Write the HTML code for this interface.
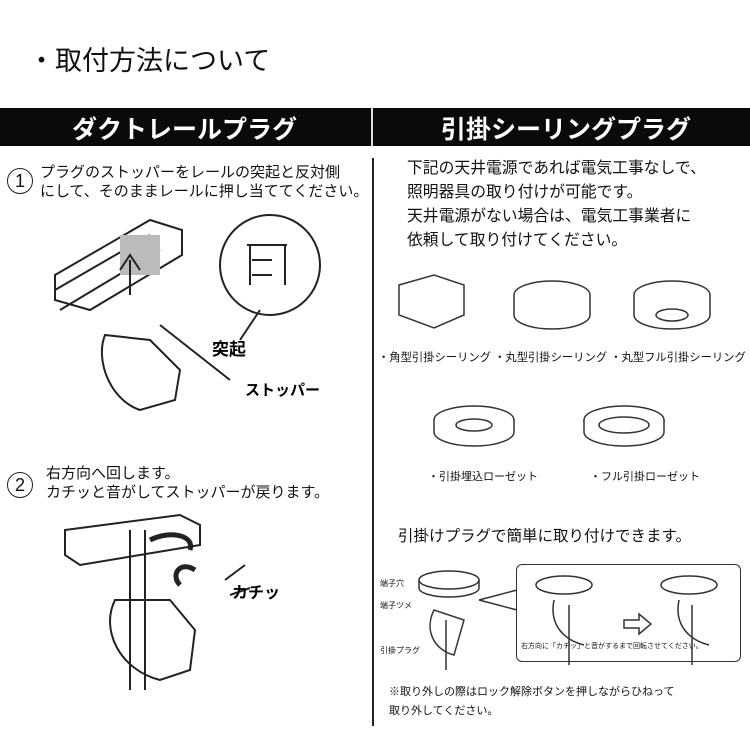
<!DOCTYPE html>
<html><head><meta charset="utf-8"><style>
body{margin:0;width:750px;height:750px;background:#fff;position:relative;overflow:hidden;font-family:"Liberation Sans","Noto Sans CJK JP",sans-serif;color:#111}
.t{position:absolute;white-space:nowrap}
</style></head><body>
<div class="t" style="left:28px;top:39px;font-size:27px">・取付方法について</div>
<div style="position:absolute;left:0;top:108px;width:750px;height:38px;background:#0a0a0a"></div>
<div style="position:absolute;left:371px;top:108px;width:2px;height:38px;background:#ddd"></div>
<div class="t" style="left:72px;top:110px;font-size:25px;color:#fff;font-weight:bold">ダクトレールプラグ</div>
<div class="t" style="left:441px;top:110px;font-size:25px;color:#fff;font-weight:bold">引掛シーリングプラグ</div>
<div style="position:absolute;left:372px;top:158px;width:2px;height:568px;background:#222"></div>

<div style="position:absolute;left:7px;top:168px;width:24px;height:24px;border:1.5px solid #222;border-radius:50%;font-size:18px;text-align:center;line-height:24px">1</div>
<div class="t" style="left:40px;top:163px;font-size:15px;line-height:19px">プラグのストッパーをレールの突起と反対側<br>にして、そのままレールに押し当ててください。</div>

<svg style="position:absolute;left:0;top:200px" width="372" height="500">
<g fill="none" stroke="#222" stroke-width="2">
<path d="M55 75 L150 20 L182 30 L182 55 L90 110 L55 100 Z"/>
<path d="M55 90 L150 35 M60 110 L160 50"/>
<rect x="120" y="35" width="40" height="40" fill="#bbb" stroke="none"/>
<path d="M130 60 L130 95 M120 70 L130 55 L140 70"/>
<circle cx="270" cy="65" r="50"/>
<path d="M247 45 h40 M250 45 v40 M285 45 v40 M252 60 h20 M252 75 h20"/>
<path d="M105 135 C95 160 110 200 140 210 L175 200 L180 170 L150 140 Z"/>
<path d="M260 110 L240 140 M160 125 L230 180"/>
</g>
<text x="212" y="155" font-size="17" font-weight="bold" font-family="Liberation Sans,Noto Sans CJK JP,sans-serif">突起</text>
<text x="245" y="195" font-size="15" font-weight="bold" font-family="Liberation Sans,Noto Sans CJK JP,sans-serif">ストッパー</text>
<g fill="none" stroke="#222" stroke-width="2">
<path d="M65 330 L180 315 L200 325 L200 345 L80 365 L65 355 Z"/>
<path d="M130 330 L130 490 M145 330 L145 490"/>
<path d="M115 400 C100 430 120 470 160 480 L190 470 L195 430 L170 400 Z"/>
<path d="M150 340 C170 330 195 335 190 350" stroke-width="5"/>
<path d="M195 370 C180 360 170 375 180 385" stroke-width="5"/>
<path d="M225 380 L245 365 M230 395 L250 388"/>
</g>
<text x="232" y="398" font-size="16" font-weight="bold" font-family="Liberation Sans,Noto Sans CJK JP,sans-serif">カチッ</text>
</svg>

<div style="position:absolute;left:7px;top:472px;width:24px;height:24px;border:1.5px solid #222;border-radius:50%;font-size:18px;text-align:center;line-height:24px">2</div>
<div class="t" style="left:46px;top:464px;font-size:15px;line-height:19px">右方向へ回します。<br>カチッと音がしてストッパーが戻ります。</div>

<div class="t" style="left:407px;top:157px;font-size:15.8px;line-height:24px">下記の天井電源であれば電気工事なしで、<br>照明器具の取り付けが可能です。<br>天井電源がない場合は、電気工事業者に<br>依頼して取り付けてください。</div>

<svg style="position:absolute;left:374px;top:260px" width="376" height="280">
<g fill="#fff" stroke="#333" stroke-width="1.5">
<path d="M25 25 L60 15 L90 25 L90 55 L60 68 L25 55 Z"/>
<ellipse cx="178" cy="35" rx="38" ry="14"/><path d="M140 35 v20 a38 14 0 0 0 76 0 v-20"/>
<ellipse cx="298" cy="35" rx="38" ry="14"/><path d="M260 35 v20 a38 14 0 0 0 76 0 v-20"/><ellipse cx="298" cy="55" rx="16" ry="6"/>
<ellipse cx="100" cy="160" rx="40" ry="14"/><path d="M60 160 v12 a40 14 0 0 0 80 0 v-12"/><ellipse cx="100" cy="165" rx="18" ry="6"/>
<ellipse cx="250" cy="160" rx="40" ry="14"/><path d="M210 160 v12 a40 14 0 0 0 80 0 v-12"/><ellipse cx="250" cy="165" rx="25" ry="8"/>
</g>
</svg>
<div class="t" style="left:378px;top:349px;font-size:11.3px">・角型引掛シーリング ・丸型引掛シーリング ・丸型フル引掛シーリング</div>
<div class="t" style="left:428px;top:468px;font-size:11px">・引掛埋込ローゼット</div>
<div class="t" style="left:590px;top:468px;font-size:11px">・フル引掛ローゼット</div>

<div class="t" style="left:398px;top:524px;font-size:15.5px">引掛けプラグで簡単に取り付けできます。</div>
<div style="position:absolute;left:516px;top:564px;width:223px;height:96px;border:1.5px solid #333;border-radius:6px"></div>
<svg style="position:absolute;left:374px;top:560px" width="376" height="110">
<g fill="none" stroke="#333" stroke-width="1.5">
<ellipse cx="75" cy="20" rx="30" ry="9"/><path d="M45 20 v8 a30 9 0 0 0 60 0 v-8"/>
<path d="M60 50 C50 70 60 90 80 95 L90 60 Z M72 60 v50"/>
<path d="M105 40 L143 30 M105 40 L143 50"/>
<ellipse cx="190" cy="25" rx="28" ry="9"/><path d="M180 40 C175 65 190 80 210 85 M195 45 v60"/>
<path d="M250 60 h15 v-6 l12 10 l-12 10 v-6 h-15 z"/>
<ellipse cx="315" cy="25" rx="28" ry="9"/><path d="M305 40 C300 65 315 80 335 85 M318 45 v60"/>
</g>
</svg>
<div class="t" style="left:380px;top:578px;font-size:8px">端子穴</div>
<div class="t" style="left:380px;top:600px;font-size:8px">端子ツメ</div>
<div class="t" style="left:380px;top:645px;font-size:8px">引掛プラグ</div>
<div class="t" style="left:521px;top:641px;font-size:7px">右方向に「カチッ」と音がするまで回転させてください。</div>
<div class="t" style="left:389px;top:683px;font-size:11px;line-height:19px">※取り外しの際はロック解除ボタンを押しながらひねって<br>取り外してください。</div>
</body></html>
